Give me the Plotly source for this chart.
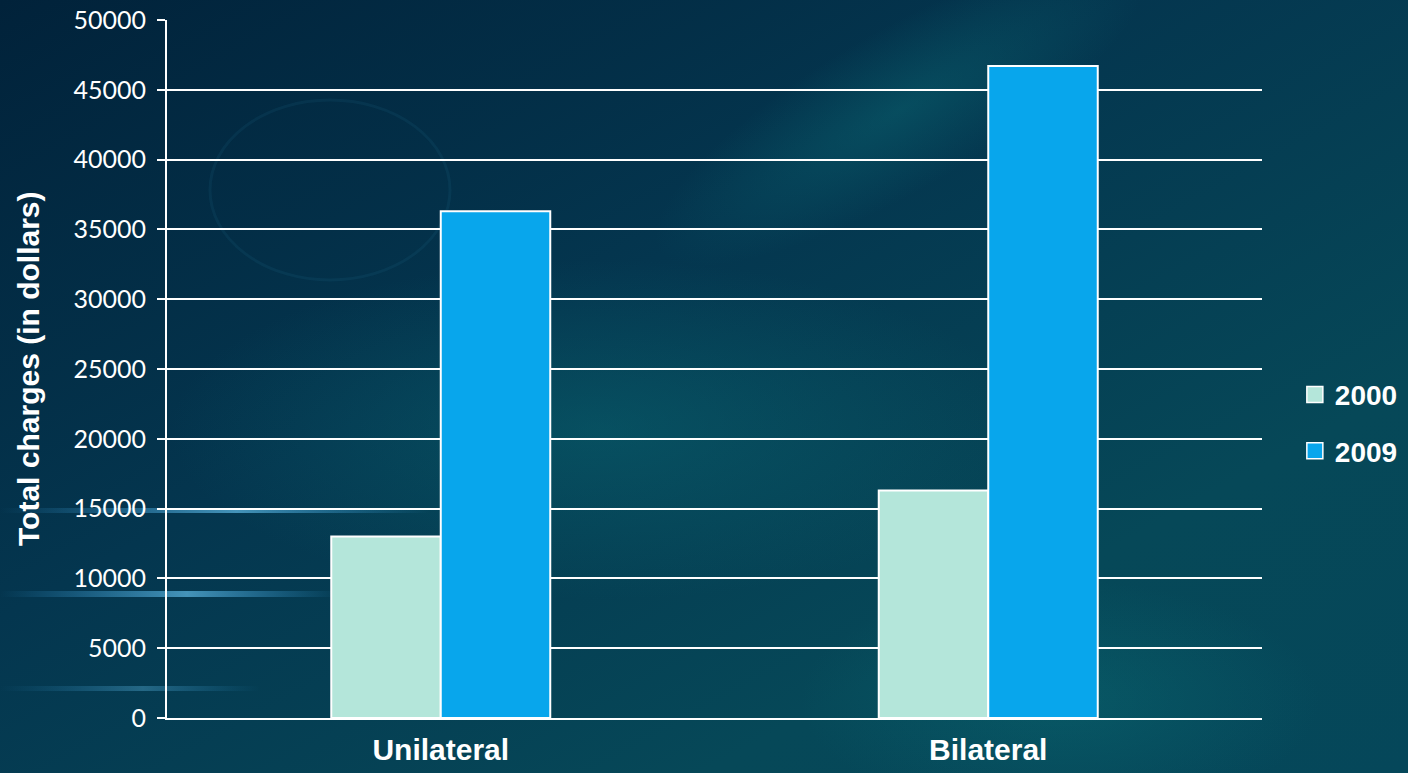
import base64
import plotly.graph_objects as go

# Data
categories = ["Unilateral", "Bilateral"]
series_names = ["2000", "2009"]
charges_2000 = [13000, 16300]
charges_2009 = [36300, 46700]
y_ticks = [0, 5000, 10000, 15000, 20000, 25000, 30000, 35000, 40000, 45000, 50000]
colors = ["#b4e6da", "#08a6ec"]

W, H = 1408, 773
L, R, T, B = 167, 146, 20, 55
PW, PH = W - L - R, H - T - B

# Dark-blue backdrop with faint teal glow and light streaks
svg = f"""<svg xmlns='http://www.w3.org/2000/svg' width='{W}' height='{H}' viewBox='0 0 {W} {H}'>
<defs>
<linearGradient id='g' x1='0' y1='0' x2='1' y2='1'>
<stop offset='0' stop-color='#01223a'/>
<stop offset='0.4' stop-color='#04364f'/>
<stop offset='0.75' stop-color='#064858'/>
<stop offset='1' stop-color='#05475a'/>
</linearGradient>
<linearGradient id='s' x1='0' y1='0' x2='1' y2='0'>
<stop offset='0' stop-color='#3fb4ff' stop-opacity='0'/>
<stop offset='0.55' stop-color='#6fd0ff' stop-opacity='0.6'/>
<stop offset='1' stop-color='#3fb4ff' stop-opacity='0'/>
</linearGradient>
<radialGradient id='r' cx='0.5' cy='0.5' r='0.5'>
<stop offset='0' stop-color='#0b7078' stop-opacity='0.4'/>
<stop offset='1' stop-color='#0b7078' stop-opacity='0'/>
</radialGradient>
</defs>
<rect width='{W}' height='{H}' fill='url(#g)'/>
<ellipse cx='600' cy='430' rx='430' ry='170' fill='url(#r)'/>
<ellipse cx='1060' cy='700' rx='260' ry='120' fill='url(#r)'/>
<ellipse cx='900' cy='110' rx='280' ry='80' fill='url(#r)' transform='rotate(-30 900 110)'/>
<rect x='0' y='508' width='430' height='5' fill='url(#s)'/>
<rect x='0' y='591' width='340' height='6' fill='url(#s)'/>
<rect x='0' y='686' width='260' height='5' fill='url(#s)' opacity='0.5'/>
<ellipse cx='330' cy='190' rx='120' ry='90' fill='none' stroke='#2a7aa0' stroke-opacity='0.12' stroke-width='3'/>
</svg>"""
bg_src = "data:image/svg+xml;base64," + base64.b64encode(svg.encode()).decode()

fig = go.Figure()
for name, vals, col in zip(series_names, [charges_2000, charges_2009], colors):
    fig.add_trace(go.Bar(
        name=name, x=categories, y=vals, showlegend=False,
        marker=dict(color=col, line=dict(color="white", width=2)),
    ))
# Larger square legend swatches
for name, col in zip(series_names, colors):
    fig.add_trace(go.Scatter(
        name=f"<b>{name}</b>", x=[None], y=[None], mode="markers", legendgroup=name,
        marker=dict(symbol="square", size=17, color=col, line=dict(color="white", width=1.5)),
    ))

fig.update_layout(
    width=W, height=H,
    barmode="group", bargap=0.6, bargroupgap=0,
    paper_bgcolor="#043a55", plot_bgcolor="rgba(0,0,0,0)",
    margin=dict(l=L, r=R, t=T, b=B, autoexpand=False),
    images=[dict(source=bg_src, xref="paper", yref="paper", x=-L / PW, y=1 + T / PH,
                 sizex=W / PW, sizey=H / PH, xanchor="left", yanchor="top",
                 sizing="stretch", layer="below")],
    legend=dict(x=1.03, y=0.423, xanchor="left", yanchor="middle",
                font=dict(family="Liberation Sans, Arial", size=28, color="white"),
                bgcolor="rgba(0,0,0,0)", tracegroupgap=17, itemwidth=30),
    showlegend=True,
    annotations=[dict(text="<b>Total charges (in dollars)</b>", xref="paper", yref="paper",
                      x=(28 - L) / PW, y=0.5, textangle=-90, showarrow=False,
                      xanchor="center", yanchor="middle",
                      font=dict(family="Liberation Sans, Arial", size=30, color="white"))],
)
fig.update_xaxes(
    showgrid=False, showline=True, linecolor="white", linewidth=2, automargin=False,
    tickvals=categories, ticktext=[f"<b>{c}</b>" for c in categories],
    tickfont=dict(family="Liberation Sans, Arial", size=30, color="white"),
    ticks="", ticklabelstandoff=4,
)
fig.update_yaxes(
    range=[0, 50000], tickvals=y_ticks, ticktext=[str(v) for v in y_ticks],
    showgrid=True, gridcolor="white", gridwidth=1.5, automargin=False,
    showline=True, linecolor="white", linewidth=2,
    ticks="outside", ticklen=8, tickcolor="white", tickwidth=1.5,
    tickfont=dict(family="Lato, Open Sans", size=25, color="white"),
    ticklabelstandoff=6, zeroline=False,
)

fig.write_html("out.html")
